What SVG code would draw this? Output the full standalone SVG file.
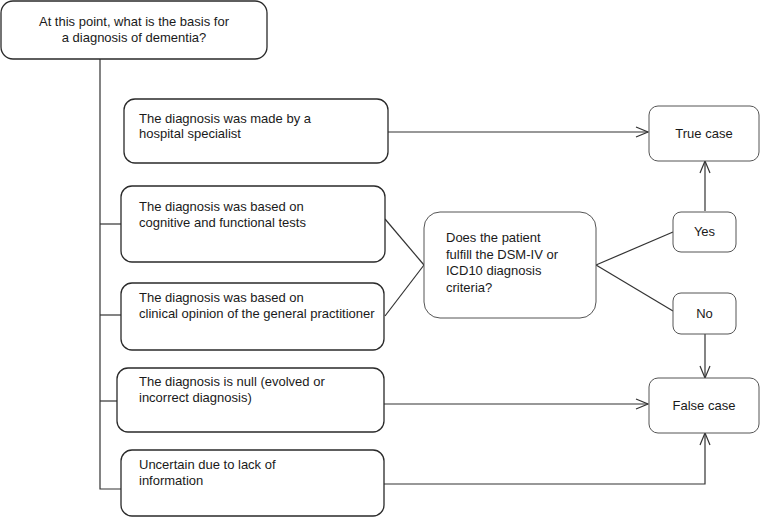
<svg xmlns="http://www.w3.org/2000/svg" width="760" height="518" viewBox="0 0 760 518">
<defs>
<style>
.box{fill:#fff;stroke:#2a2a2a;stroke-width:1.3}
.sbox{fill:#fff;stroke:#555;stroke-width:1}
.ln{fill:none;stroke:#333;stroke-width:1.2}
text{font-family:"Liberation Sans",Arial,sans-serif;font-size:13px;fill:#1a1a1a}
.c{text-anchor:middle}
</style>
<marker id="arr" viewBox="0 0 14 12" refX="13" refY="6" markerWidth="14" markerHeight="12" markerUnits="userSpaceOnUse" orient="auto">
<path d="M1,1 L13,6 L1,11" fill="none" stroke="#333" stroke-width="1.2"/>
</marker>
</defs>
<rect width="760" height="518" fill="#fff"/>
<g id="connectors">
<polyline class="ln" points="100,59 100,489 121,489"/>
<line class="ln" x1="100" y1="224" x2="121" y2="224"/>
<line class="ln" x1="100" y1="315" x2="121" y2="315"/>
<line class="ln" x1="100" y1="401" x2="117" y2="401"/>
<line class="ln" x1="388" y1="132" x2="648" y2="132" marker-end="url(#arr)"/>
<line class="ln" x1="385" y1="219" x2="424" y2="265"/>
<line class="ln" x1="385" y1="316" x2="424" y2="265"/>
<line class="ln" x1="596" y1="265" x2="673" y2="232"/>
<line class="ln" x1="596" y1="265" x2="673" y2="311"/>
<line class="ln" x1="705" y1="211" x2="705" y2="161" marker-end="url(#arr)"/>
<line class="ln" x1="705" y1="334" x2="705" y2="378" marker-end="url(#arr)"/>
<line class="ln" x1="384" y1="404" x2="648" y2="404" marker-end="url(#arr)"/>
<polyline class="ln" points="384,484 705,484 705,433" marker-end="url(#arr)"/>
</g>
<g id="n-question">
<rect class="box" x="1" y="1" width="266" height="58" rx="12"/>
<text class="c" x="134" y="26">At this point, what is the basis for</text>
<text class="c" x="134" y="41.5">a diagnosis of dementia?</text>
</g>
<g id="n-specialist">
<rect class="box" x="124" y="99" width="264" height="64" rx="11"/>
<text x="139" y="122.5">The diagnosis was made by a</text>
<text x="139" y="138">hospital specialist</text>
</g>
<g id="n-tests">
<rect class="box" x="121" y="186" width="264" height="76" rx="11"/>
<text x="139" y="211">The diagnosis was based on</text>
<text x="139" y="226.5">cognitive and functional tests</text>
</g>
<g id="n-gp">
<rect class="box" x="121" y="283" width="263" height="67" rx="11"/>
<text x="139" y="302">The diagnosis was based on</text>
<text x="139" y="317.5">clinical opinion of the general practitioner</text>
</g>
<g id="n-null">
<rect class="box" x="117" y="368" width="267" height="64" rx="11"/>
<text x="139" y="386">The diagnosis is null (evolved or</text>
<text x="139" y="402">incorrect diagnosis)</text>
</g>
<g id="n-uncertain">
<rect class="box" x="121" y="450" width="263" height="66" rx="11"/>
<text x="139" y="469">Uncertain due to lack of</text>
<text x="139" y="485">information</text>
</g>
<g id="n-criteria">
<rect class="sbox" x="424" y="212" width="172" height="106" rx="16"/>
<text x="446" y="242">Does the patient</text>
<text x="446" y="258.5">fulfill the DSM-IV or</text>
<text x="446" y="275">ICD10 diagnosis</text>
<text x="446" y="291.5">criteria?</text>
</g>
<g id="n-yes">
<rect class="sbox" x="673" y="212" width="63" height="40" rx="8"/>
<text class="c" x="704.5" y="236">Yes</text>
</g>
<g id="n-no">
<rect class="sbox" x="673" y="293" width="63" height="41" rx="8"/>
<text class="c" x="704.5" y="318">No</text>
</g>
<g id="n-true">
<rect class="sbox" x="649" y="106" width="110" height="55" rx="9"/>
<text class="c" x="704" y="137.5">True case</text>
</g>
<g id="n-false">
<rect class="sbox" x="649" y="378" width="110" height="55" rx="9"/>
<text class="c" x="704" y="409.5">False case</text>
</g>
</svg>
